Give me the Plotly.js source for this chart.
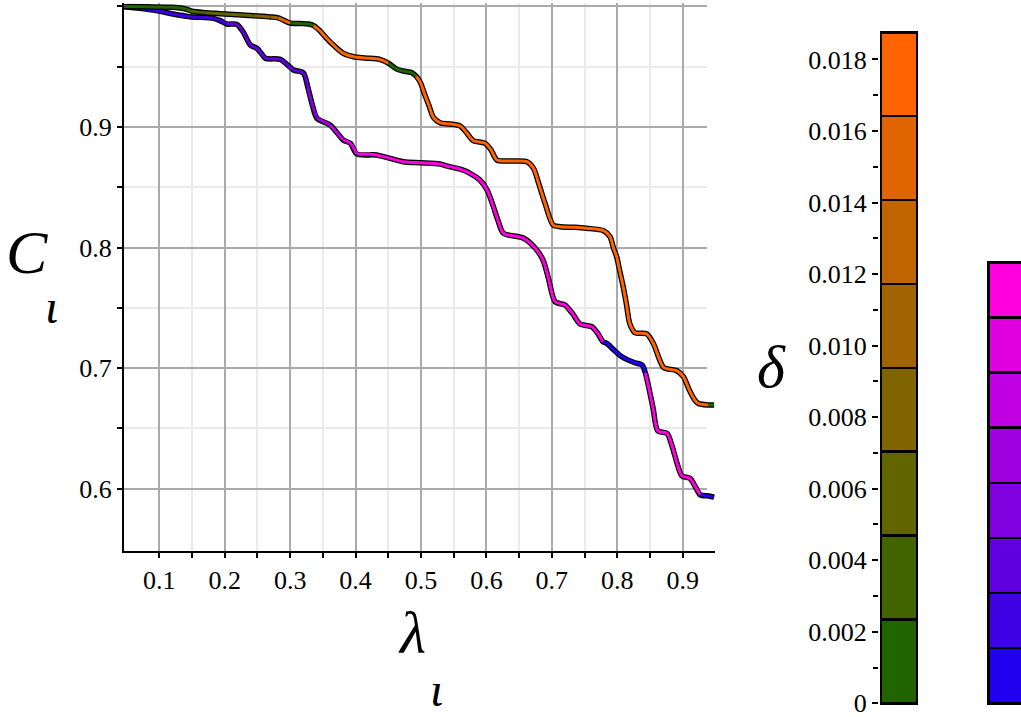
<!DOCTYPE html>
<html>
<head>
<meta charset="utf-8">
<script src="https://cdn.plot.ly/plotly-3.0.1.min.js"></script>
<style>html,body{margin:0;padding:0;background:#fff;overflow:hidden}</style>
</head>
<body>
<div id="chart" style="width:1021px;height:717px"></div>
<script>
// ---- data: upper curve (coloured by delta, orange/green scale) ----
const upperLambda = [0.046,0.080,0.121,0.135,0.142,0.150,0.170,0.193,0.220,0.244,0.270,0.282,0.292,0.300,0.315,0.328,0.336,0.345,0.355,0.366,0.380,0.397,0.415,0.437,0.450,0.463,0.475,0.486,0.493,0.499,0.505,0.512,0.519,0.529,0.545,0.560,0.570,0.580,0.598,0.607,0.616,0.640,0.662,0.672,0.680,0.690,0.702,0.713,0.735,0.753,0.779,0.789,0.794,0.799,0.804,0.809,0.814,0.819,0.827,0.845,0.855,0.864,0.871,0.891,0.901,0.910,0.918,0.924,0.939,0.948];
const upperC      = [1.0000,0.9997,0.9993,0.9985,0.9976,0.9960,0.9948,0.9940,0.9930,0.9922,0.9913,0.9905,0.9880,0.9862,0.9858,0.9854,0.9840,0.9800,0.9740,0.9680,0.9615,0.9583,0.9572,0.9561,0.9530,0.9480,0.9462,0.9450,0.9420,0.9370,0.9280,0.9180,0.9080,0.9036,0.9025,0.9008,0.8950,0.8886,0.8865,0.8810,0.8726,0.8718,0.8712,0.8657,0.8530,0.8360,0.8187,0.8173,0.8168,0.8160,0.8140,0.8090,0.8000,0.7925,0.7800,0.7676,0.7530,0.7372,0.7294,0.7284,0.7206,0.7080,0.7005,0.6979,0.6930,0.6820,0.6740,0.6707,0.6695,0.6695];
const upperDelta  = [0.0005,0.0010,0.0015,0.0020,0.0030,0.0040,0.0050,0.0055,0.0060,0.0075,0.0095,0.0160,0.0170,0.0010,0.0010,0.0010,0.0170,0.0170,0.0170,0.0170,0.0170,0.0170,0.0170,0.0165,0.0020,0.0010,0.0010,0.0010,0.0170,0.0170,0.0170,0.0170,0.0170,0.0170,0.0170,0.0170,0.0170,0.0170,0.0170,0.0170,0.0170,0.0170,0.0170,0.0170,0.0170,0.0170,0.0170,0.0170,0.0170,0.0170,0.0170,0.0170,0.0170,0.0170,0.0170,0.0170,0.0170,0.0170,0.0170,0.0170,0.0170,0.0170,0.0170,0.0170,0.0170,0.0170,0.0170,0.0170,0.0010,0.0010];

// ---- data: lower curve (coloured on the blue/magenta scale, band index) ----
const lowerLambda = [0.046,0.070,0.091,0.105,0.121,0.147,0.183,0.193,0.203,0.218,0.228,0.239,0.249,0.256,0.262,0.285,0.295,0.305,0.320,0.327,0.334,0.341,0.361,0.372,0.381,0.392,0.402,0.432,0.473,0.499,0.529,0.539,0.560,0.575,0.590,0.601,0.610,0.618,0.626,0.657,0.677,0.687,0.695,0.705,0.720,0.732,0.743,0.761,0.770,0.778,0.784,0.795,0.807,0.827,0.838,0.843,0.850,0.855,0.862,0.876,0.884,0.892,0.899,0.911,0.920,0.927,0.940,0.948];
const lowerC      = [0.9998,0.9985,0.9970,0.9955,0.9937,0.9915,0.9901,0.9882,0.9854,0.9852,0.9790,0.9680,0.9653,0.9610,0.9570,0.9561,0.9520,0.9473,0.9450,0.9330,0.9180,0.9072,0.9017,0.8950,0.8892,0.8865,0.8776,0.8768,0.8712,0.8704,0.8693,0.8677,0.8650,0.8616,0.8560,0.8478,0.8350,0.8220,0.8119,0.8077,0.7980,0.7890,0.7740,0.7551,0.7524,0.7450,0.7367,0.7344,0.7290,0.7220,0.7206,0.7150,0.7095,0.7045,0.7027,0.6960,0.6792,0.6660,0.6480,0.6460,0.6350,0.6200,0.6106,0.6087,0.6010,0.5949,0.5940,0.5930];
const lowerLevel  = [0.5,0.5,1.5,1.5,1.5,1.5,1.5,1.5,2.5,2.5,2.5,2.5,2.5,2.5,2.5,2.5,2.5,2.5,2.5,3.5,3.5,4.5,5.5,5.5,6.5,6.5,7.5,7.5,7.5,7.5,7.5,7.5,7.5,7.5,7.5,7.5,7.5,7.5,7.5,7.5,7.5,7.5,7.5,7.5,7.5,7.5,7.5,7.5,7.5,0.5,0.5,0.5,0.5,0.5,0.5,7.5,7.5,7.5,7.5,7.5,7.5,7.5,7.5,7.5,7.5,0.5,0.5,0.5];

// ---- colour bands ----
const deltaBandColors = ['#206400','#426400','#626400','#806400','#a06400','#c06400','#e06400','#ff6400'];
const deltaBandSize = [0.002345,0.002345,0.002345,0.002345,0.002345,0.002345,0.002345,0.002345];
const deltaTickVals = [0,0.002,0.004,0.006,0.008,0.010,0.012,0.014,0.016,0.018];
const deltaTickText = ['0','0.002','0.004','0.006','0.008','0.010','0.012','0.014','0.016','0.018'];
const deltaMinorVals = [0.001,0.003,0.005,0.007,0.009,0.011,0.013,0.015,0.017];
const levelBandColors = ['#2000ee','#4000e4','#6000e0','#8000e0','#a000e0','#c000e0','#e000e0','#ff00e0'];
const levelBandSize = [1,1,1,1,1,1,1,1];
const lambdaMinorVals = [0.15,0.25,0.35,0.45,0.55,0.65,0.75,0.85];
const cMinorVals = [0.65,0.75,0.85,0.95];
const gridEnd = 0.937;   // grid stops here, curves run on to 0.948

const W = 1021, H = 717;
const px = v => v / W;
const py = v => 1 - v / H;
const SERIF = '"Liberation Serif", serif';

function bandIndex(v, sizes) {
  let acc = 0;
  for (let i = 0; i < sizes.length; i++) { acc += sizes[i]; if (v < acc) return i; }
  return sizes.length - 1;
}

function curveTraces(xs, ys, vs, sizes, colors) {
  const out = [{x: xs, y: ys, mode: 'lines', line: {color: '#000', width: 5.5, shape: 'spline', smoothing: 0.8}, hoverinfo: 'skip', showlegend: false}];
  let start = 0;
  for (let i = 1; i < xs.length; i++) {
    const bStart = bandIndex(vs[start], sizes);
    const last = (i === xs.length - 1);
    const changes = !last && bandIndex(vs[i], sizes) !== bStart;
    if (changes || last) {
      out.push({x: xs.slice(start, i + 1), y: ys.slice(start, i + 1), mode: 'lines',
        line: {color: colors[bStart], width: 3, shape: 'spline', smoothing: 0.8}, hoverinfo: 'skip', showlegend: false});
      start = i;
    }
  }
  return out;
}

function bandBars(sizes, colors, xa, ya) {
  return sizes.map((s, i) => ({
    type: 'bar', x: [0], y: [s], width: [1], xaxis: xa, yaxis: ya,
    marker: {color: colors[i], line: {color: '#000', width: 2.5}},
    hoverinfo: 'skip', showlegend: false
  }));
}

const traces = [].concat(
  curveTraces(lowerLambda, lowerC, lowerLevel, levelBandSize, levelBandColors),
  curveTraces(upperLambda, upperC, upperDelta, deltaBandSize, deltaBandColors),
  bandBars(deltaBandSize, deltaBandColors, 'x2', 'y2'),
  bandBars(levelBandSize, levelBandColors, 'x3', 'y3')
);

const tf = () => ({family: SERIF, size: 26, color: '#000'});
const gridMajor = '#aaaaaa', gridMinor = '#ebebeb';

const layout = {
  width: W, height: H,
  margin: {l: 0, r: 0, t: 0, b: 0},
  paper_bgcolor: '#fff', plot_bgcolor: '#fff',
  showlegend: false, barmode: 'stack',
  font: tf(),
  xaxis: {
    domain: [px(124), px(715.4)], range: [0.046, 0.95], anchor: 'y',
    tick0: 0, dtick: 0.1, ticks: 'outside', ticklen: 5, tickwidth: 2, tickcolor: '#000',
    showgrid: true, gridcolor: gridMajor, gridwidth: 2,
    minor: {tickmode: 'array', tickvals: lambdaMinorVals, ticks: 'outside', ticklen: 5, tickwidth: 2, tickcolor: '#000', showgrid: true, gridcolor: gridMinor, gridwidth: 2},
    showline: true, linecolor: '#000', linewidth: 2, zeroline: false, tickfont: tf()
  },
  yaxis: {
    domain: [py(551.1), py(3.4)], range: [0.5483, 1.0025], anchor: 'x',
    tick0: 0, dtick: 0.1, ticks: 'outside', ticklen: 5, tickwidth: 2, tickcolor: '#000',
    showgrid: true, gridcolor: gridMajor, gridwidth: 2,
    minor: {tickmode: 'array', tickvals: cMinorVals, ticks: 'outside', ticklen: 5, tickwidth: 2, tickcolor: '#000', showgrid: true, gridcolor: gridMinor, gridwidth: 2},
    showline: true, linecolor: '#000', linewidth: 2, zeroline: false, tickfont: tf()
  },
  xaxis2: {domain: [px(879), px(919)], range: [-0.55, 0.55], anchor: 'y2', visible: false, fixedrange: true},
  yaxis2: {
    domain: [py(705.8), py(29.8)], range: [-0.00007, 0.01883], anchor: 'x2', side: 'left',
    tickmode: 'array', tickvals: deltaTickVals, ticktext: deltaTickText,
    ticks: 'outside', ticklen: 6, tickwidth: 2, tickcolor: '#000',
    minor: {tickmode: 'array', tickvals: deltaMinorVals, ticks: 'outside', ticklen: 5, tickwidth: 2, tickcolor: '#000', showgrid: false},
    showgrid: false, zeroline: false, showline: false, tickfont: tf(),
    ticklabeloverflow: 'allow'
  },
  xaxis3: {domain: [px(986), 1], range: [-0.55, 0.2], anchor: 'y3', visible: false, fixedrange: true},
  yaxis3: {domain: [py(706.1), py(259.5)], range: [-0.05, 8.05], anchor: 'x3', visible: false},
  shapes: [
    {type: 'rect', layer: 'between', xref: 'x', yref: 'y', x0: gridEnd, x1: 0.96, y0: 0.55, y1: 1.01,
     fillcolor: '#ffffff', line: {width: 0}}
  ],
  annotations: [
    {text: '<i>C</i>', xref: 'paper', yref: 'paper', x: px(27), y: py(252), xanchor: 'center', yanchor: 'middle', showarrow: false, font: {family: SERIF, size: 62, color: '#000'}},
    {text: '<i>ι</i>', xref: 'paper', yref: 'paper', x: px(51), y: py(307), xanchor: 'center', yanchor: 'middle', showarrow: false, font: {family: SERIF, size: 48, color: '#000'}},
    {text: '<i>λ</i>', xref: 'paper', yref: 'paper', x: px(412), y: py(633), xanchor: 'center', yanchor: 'middle', showarrow: false, font: {family: SERIF, size: 60, color: '#000'}},
    {text: '<i>ι</i>', xref: 'paper', yref: 'paper', x: px(436), y: py(689), xanchor: 'center', yanchor: 'middle', showarrow: false, font: {family: SERIF, size: 48, color: '#000'}},
    {text: '<i>δ</i>', xref: 'paper', yref: 'paper', x: px(771), y: py(367), xanchor: 'center', yanchor: 'middle', showarrow: false, font: {family: SERIF, size: 60, color: '#000'}}
  ]
};

Plotly.newPlot('chart', traces, layout, {displayModeBar: false, staticPlot: true});
</script>
</body>
</html>
